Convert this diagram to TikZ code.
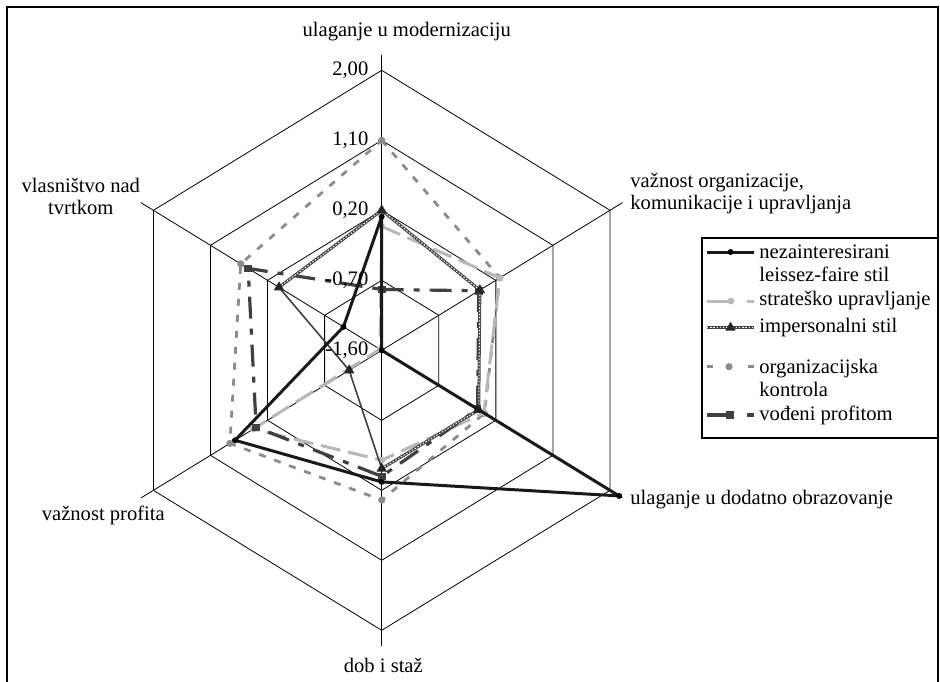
\documentclass[tikz,border=0pt]{standalone}
\usepackage{fontspec}
\setmainfont{Liberation Serif}
\usetikzlibrary{shapes.geometric}

\begin{document}
\begin{tikzpicture}[x=0.5pt, y=-0.5pt,
    every node/.style={font=\fontsize{10.3}{11}\selectfont, inner sep=1pt},
    grid/.style={line width=0.4pt, black},
    tick/.style={anchor=east, xshift=-5.5pt},
    nez/.style={line width=1.5pt, black!90, line join=round},
    strat/.style={line width=1.5pt, black!28, dash pattern=on 10pt off 4pt},
    imp/.style={line width=1.5pt, black!72, postaction={draw=white, line width=0.5pt, dash pattern=on 0.7pt off 0.9pt}},
    impthin/.style={line width=0.8pt, black!75},
    org/.style={line width=1.4pt, black!45, dash pattern=on 3.5pt off 4.5pt},
    vod/.style={line width=1.6pt, black!75, dash pattern=on 11pt off 5pt on 3pt off 5pt},
    tri/.style={regular polygon, regular polygon sides=3, fill=black!85, inner sep=0pt, minimum size=6pt},
    sq/.style={rectangle, fill=black!75, inner sep=0pt, minimum size=3.8pt},
    legbox/.style={line width=0.8pt, fill=white}]
  \useasboundingbox (0,0) rectangle (940,681);
  \draw[line width=0.9pt] (7,690) -- (7,7) -- (938,7) -- (938,690);

  \coordinate (ctr) at (381.7,350.3);
  \begin{scope}[shift={(ctr)}, x=32.95pt, y=35pt]
    \foreach \k in {1,...,4}
      \draw[grid] (90:\k) -- (30:\k) -- (-30:\k) -- (-90:\k) -- (-150:\k) -- (150:\k) -- cycle;
    \foreach \a in {90,30,-30,-90,-150,150}
      \draw[grid] (0,0) -- (\a:4.22);

    % organizacijska kontrola
    \draw[org] (90:3) -- (30:2.07) -- (-30:1.8) -- (-90:2.14) -- (-150:2.66) -- (150:2.47) -- cycle;
    \foreach \a/\r in {90/3,30/2.07,-30/1.8,-90/2.14,-150/2.66,150/2.47}
      \fill[black!45] (\a:\r) circle (1.8pt);
    % strategija
    \draw[strat] (90:1.77) -- (30:2.07) -- (-30:1.79) -- (-90:1.57) -- (-150:2.25) -- (150:0.03) -- cycle;
    \foreach \a/\r in {90/1.77,30/2.07,-30/1.79,-90/1.57,-150/2.25,150/0.03}
      \fill[black!28] (\a:\r) circle (1.7pt);
    % profit
    \draw[vod] (90:0.87) -- (30:1.7) -- (-30:1.68) -- (-90:1.8) -- (-150:2.2) -- (150:2.34) -- cycle;
    \foreach \a/\r in {90/0.87,30/1.7,-30/1.68,-90/1.8,-150/2.2,150/2.34}
      \node[sq] (vod\a) at (\a:\r) {};
    % impersonalni
    \draw[imp] (-90:1.69) -- (-30:1.7) -- (30:1.72) -- (90:2) -- (150:1.8);
    \draw[impthin] (150:1.8) -- (-150:0.57) -- (-90:1.69);
    \foreach \a/\r in {90/2,30/1.72,-30/1.7,-90/1.69,-150/0.57,150/1.8}
      \node[tri] (imp\a) at (\a:\r) {};
    % nezainteresirani
    \draw[nez] (90:1.91) -- (30:0) -- (-30:4.16) -- (-90:1.88) -- (-150:2.57) -- (150:0.67) -- cycle;
    \foreach \a/\r in {90/1.91,30/0,-30/4.16,-90/1.88,-150/2.57,150/0.67}
      \fill[black] (\a:\r) circle (1.5pt);

    \foreach \k/\t in {0/{-1,60},1/{-0,70},2/{0,20},3/{1,10},4/{2,00}}
      \node[tick] (t\k) at (90:\k) {\t};
  \end{scope}

  \node (modern) at (406.7,31.7) {ulaganje u modernizaciju};
  \node[align=center] (vlasn) at (80.8,196) {vlasništvo nad\\tvrtkom};
  \node[anchor=west, align=left] (organ) at (628,194) {važnost organizacije,\\komunikacije i upravljanja};
  \node[anchor=west] (obraz) at (628,500) {ulaganje u dodatno obrazovanje};
  \node (profit) at (103.3,515) {važnost profita};
  \node (staz) at (383.3,665) {dob i staž};

  % legenda
  \draw[legbox] (702,238) rectangle (938,438);
  \draw[nez] (707,252) -- (754,252);
  \fill[black] (730.5,252) circle (1.5pt);
  \node[anchor=west, align=left, font=\fontsize{10.3}{11.5}\selectfont] (l1) at (757,263.5) {nezainteresirani\\leissez-faire stil};
  \draw[strat, solid] (707,301) -- (731,301) (747,301) -- (754,301);
  \fill[black!28] (731,301) circle (1.7pt);
  \node[anchor=west] (l2) at (757,301) {strateško upravljanje};
  \draw[imp] (707,327.7) -- (754,327.7);
  \node[tri] (ltri) at (730.5,327.7) {};
  \node[anchor=west] (l3) at (757,327.7) {impersonalni stil};
  \draw[org, solid] (707,366.7) -- (713,366.7) (748,366.7) -- (754,366.7);
  \fill[black!45] (729,366.7) circle (1.8pt);
  \node[anchor=west, align=left, font=\fontsize{10.3}{11.5}\selectfont] (l4) at (757,378) {organizacijska\\kontrola};
  \draw[vod, solid] (707,415) -- (729,415) (747,415) -- (754,415);
  \node[sq] (lsq) at (730,415) {};
  \node[anchor=west] (l5) at (757,415) {vođeni profitom};
\end{tikzpicture}
\end{document}
